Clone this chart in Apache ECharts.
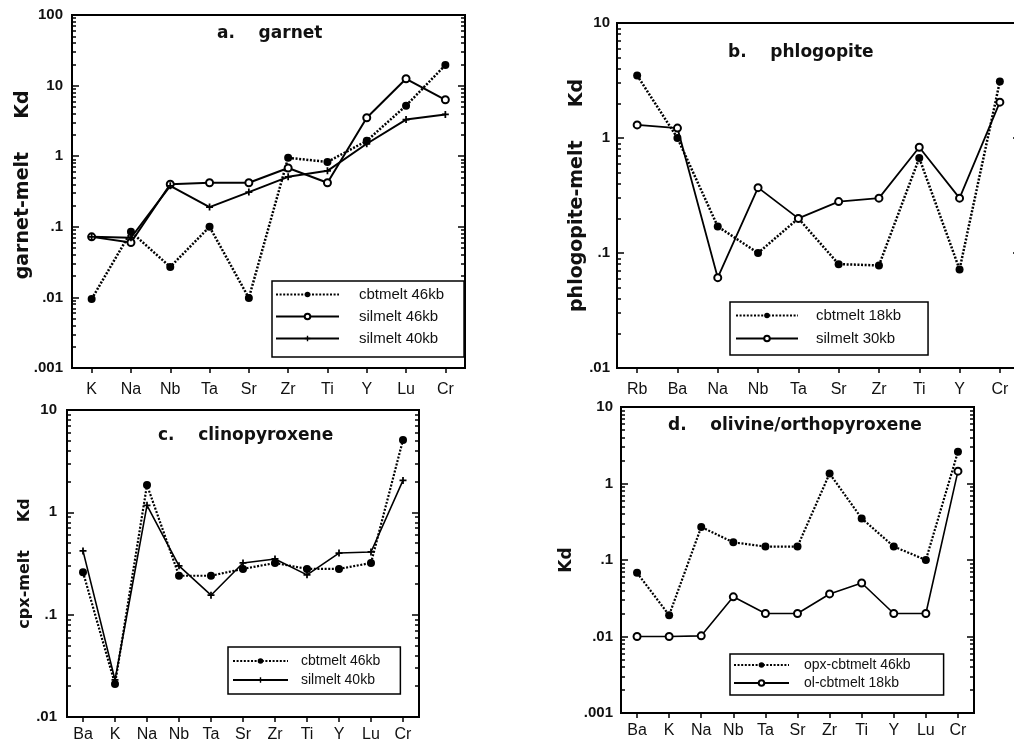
<!DOCTYPE html>
<html>
<head>
<meta charset="utf-8">
<script src="https://cdn.jsdelivr.net/npm/echarts@6/dist/echarts.min.js"></script>
<style>
  html, body { margin: 0; padding: 0; background: #fff; }
  #chart { width: 1014px; height: 739px; }
</style>
</head>
<body>
<div id="chart"></div>
<script>
// panel a - garnet
var catsA = ['K', 'Na', 'Nb', 'Ta', 'Sr', 'Zr', 'Ti', 'Y', 'Lu', 'Cr'];
var cbt46A = [0.0095, 0.085, 0.027, 0.1, 0.0098, 0.95, 0.83, 1.65, 5.2, 19.5];
var sil46A = [0.072, 0.06, 0.4, 0.42, 0.42, 0.68, 0.42, 3.5, 12.5, 6.3];
var sil40A = [0.072, 0.07, 0.38, 0.19, 0.31, 0.51, 0.62, 1.5, 3.3, 3.9];
var yValsA = [0.001, 0.01, 0.1, 1, 10, 100];
var yLabsA = ['.001', '.01', '.1', '1', '10', '100'];

// panel b - phlogopite
var catsB = ['Rb', 'Ba', 'Na', 'Nb', 'Ta', 'Sr', 'Zr', 'Ti', 'Y', 'Cr'];
var cbt18B = [3.5, 1.0, 0.17, 0.1, 0.2, 0.08, 0.078, 0.67, 0.072, 3.1];
var sil30B = [1.3, 1.22, 0.061, 0.37, 0.2, 0.28, 0.3, 0.83, 0.3, 2.05];
var yValsB = [0.01, 0.1, 1, 10];
var yLabsB = ['.01', '.1', '1', '10'];

// panel c - clinopyroxene
var catsC = ['Ba', 'K', 'Na', 'Nb', 'Ta', 'Sr', 'Zr', 'Ti', 'Y', 'Lu', 'Cr'];
var cbt46C = [0.26, 0.021, 1.85, 0.24, 0.24, 0.28, 0.32, 0.28, 0.28, 0.32, 5.1];
var sil40C = [0.42, 0.023, 1.17, 0.3, 0.155, 0.32, 0.35, 0.245, 0.4, 0.41, 2.05];
var yValsC = [0.01, 0.1, 1, 10];
var yLabsC = ['.01', '.1', '1', '10'];

// panel d - olivine/orthopyroxene
var catsD = ['Ba', 'K', 'Na', 'Nb', 'Ta', 'Sr', 'Zr', 'Ti', 'Y', 'Lu', 'Cr'];
var opx46D = [0.068, 0.019, 0.27, 0.17, 0.15, 0.15, 1.35, 0.35, 0.15, 0.1, 2.6];
var ol18D = [0.01, 0.01, 0.0102, 0.033, 0.02, 0.02, 0.036, 0.05, 0.02, 0.02, 1.45];
var yValsD = [0.001, 0.01, 0.1, 1, 10];
var yLabsD = ['.001', '.01', '.1', '1', '10'];

var fam = "'Liberation Sans', Arial, sans-serif";
var famBold = "'DejaVu Sans', sans-serif";
var ink = '#111';
var plusPath = 'path://M3,0H5V3H8V5H5V8H3V5H0V3H3Z';

function minorVals(majors) {
    var out = [];
    for (var i = 0; i < majors.length - 1; i++) {
        for (var k = 2; k <= 9; k++) out.push(+(majors[i] * k).toPrecision(3));
    }
    return out;
}

function yAxesFor(g, vals, labs, name, nameGap, nameSize, labMargin) {
    var minors = minorVals(vals);
    var base = {
        type: 'log', logBase: 10, gridIndex: g,
        min: vals[0], max: vals[vals.length - 1],
        splitLine: {show: false}, minorTick: {show: false}
    };
    var tickLine = {color: '#000', width: 1.5};
    return [
        Object.assign({}, base, {
            position: 'left',
            axisLine: {show: true, lineStyle: {color: '#000', width: 2}},
            axisTick: {show: true, inside: true, length: 7, customValues: vals, lineStyle: tickLine},
            axisLabel: {
                customValues: vals, margin: labMargin, color: ink,
                fontFamily: fam, fontWeight: 'bold', fontSize: 15,
                formatter: function (v) {
                    for (var i = 0; i < vals.length; i++) {
                        if (Math.abs(Math.log10(vals[i]) - Math.log10(v)) < 1e-6) return labs[i];
                    }
                    return '';
                }
            },
            name: name, nameLocation: 'middle', nameRotate: 90, nameGap: nameGap,
            nameMoveOverlap: false,
            nameTextStyle: {fontFamily: famBold, fontWeight: 'bold', fontSize: nameSize, color: ink}
        }),
        Object.assign({}, base, {
            position: 'left',
            axisLine: {show: false},
            axisTick: {show: true, inside: true, length: 4, customValues: minors, lineStyle: tickLine},
            axisLabel: {show: false}
        }),
        Object.assign({}, base, {
            position: 'right',
            axisLine: {show: true, lineStyle: {color: '#000', width: 2}},
            axisTick: {show: true, inside: true, length: 7, customValues: vals, lineStyle: tickLine},
            axisLabel: {show: false}
        }),
        Object.assign({}, base, {
            position: 'right',
            axisLine: {show: false},
            axisTick: {show: true, inside: true, length: 4, customValues: minors, lineStyle: tickLine},
            axisLabel: {show: false}
        })
    ];
}

function xAxisFor(g, cats, margin) {
    return {
        type: 'category', gridIndex: g, data: cats, boundaryGap: true,
        axisLine: {lineStyle: {color: '#000', width: 2}},
        axisTick: {show: true, inside: false, alignWithLabel: true, length: 5, lineStyle: {color: '#000', width: 1.5}},
        axisLabel: {interval: 0, color: ink, fontFamily: fam, fontSize: 16, margin: margin},
        splitLine: {show: false}
    };
}

function dotted(name, data, g, w) {
    return {
        name: name, type: 'line', xAxisIndex: g, yAxisIndex: g * 4, data: data,
        symbol: 'circle', symbolSize: 8,
        itemStyle: {color: '#000'},
        lineStyle: {color: '#000', width: w || 2.5, type: [2, 1.6]}
    };
}
function openCirc(name, data, g, w) {
    return {
        name: name, type: 'line', xAxisIndex: g, yAxisIndex: g * 4, data: data,
        symbol: 'emptyCircle', symbolSize: 7,
        itemStyle: {color: '#000', borderWidth: 1.5},
        lineStyle: {color: '#000', width: w || 2}
    };
}
function plusLine(name, data, g, w) {
    return {
        name: name, type: 'line', xAxisIndex: g, yAxisIndex: g * 4, data: data,
        symbol: plusPath, symbolSize: 7,
        itemStyle: {color: '#000'},
        lineStyle: {color: '#000', width: w || 2}
    };
}

function legendFor(names, left, top, pad, gap, itemW, textGap, fs) {
    return {
        data: names, orient: 'vertical', left: left, top: top,
        padding: pad, itemGap: gap, itemWidth: itemW, itemHeight: 7,
        selectedMode: false,
        borderColor: '#000', borderWidth: 1.5, backgroundColor: '#fff',
        textStyle: {fontFamily: fam, fontSize: fs, color: ink, padding: [0, 0, 0, textGap - 5]}
    };
}

function titleFor(text, left, top) {
    return {
        text: text, left: left, top: top, padding: 0,
        textStyle: {fontFamily: famBold, fontWeight: 'bold', fontSize: 17, color: ink}
    };
}

var chart = echarts.init(document.getElementById('chart'));
var gridBase = {show: true, borderColor: '#000', borderWidth: 2, backgroundColor: 'transparent', containLabel: false, outerBoundsMode: 'none'};

var option = {
    animation: false,
    backgroundColor: '#fff',
    title: [
        titleFor('a.    garnet', 217, 25),
        titleFor('b.    phlogopite', 728, 44),
        titleFor('c.    clinopyroxene', 158, 427),
        titleFor('d.    olivine/orthopyroxene', 668, 417)
    ],
    grid: [
        Object.assign({}, gridBase, {left: 72, top: 15, width: 393, height: 353}),
        Object.assign({}, gridBase, {left: 617, top: 23, width: 403, height: 345}),
        Object.assign({}, gridBase, {left: 67, top: 410, width: 352, height: 307}),
        Object.assign({}, gridBase, {left: 621, top: 407, width: 353, height: 306})
    ],
    xAxis: [
        xAxisFor(0, catsA, 14),
        xAxisFor(1, catsB, 14),
        xAxisFor(2, catsC, 10),
        xAxisFor(3, catsD, 10)
    ],
    yAxis: [].concat(
        yAxesFor(0, yValsA, yLabsA, '  garnet-melt     Kd', 39, 19, 9),
        yAxesFor(1, yValsB, yLabsB, 'phlogopite-melt     Kd', 30, 19, 7),
        yAxesFor(2, yValsC, yLabsC, 'cpx-melt     Kd', 34, 16, 10),
        yAxesFor(3, yValsD, yLabsD, 'Kd', 46, 17, 8)
    ),
    legend: [
        legendFor(['cbtmelt 46kb', 'silmelt 46kb', 'silmelt 40kb'], 272, 281, [6, 20, 11, 3], 7, 63, 20, 15),
        legendFor(['cbtmelt 18kb', 'silmelt 30kb'], 730, 302, [6, 27, 9, 5], 8, 62, 18, 15),
        legendFor(['cbtmelt 46kb', 'silmelt 40kb'], 228, 647, [7, 20, 7, 4], 5, 55, 13, 14),
        legendFor(['opx-cbtmelt 46kb', 'ol-cbtmelt 18kb'], 730, 654, [4, 33, 5, 3], 4, 55, 15, 14)
    ],
    series: [
        dotted('cbtmelt 46kb', cbt46A, 0),
        openCirc('silmelt 46kb', sil46A, 0),
        plusLine('silmelt 40kb', sil40A, 0),
        dotted('cbtmelt 18kb', cbt18B, 1),
        openCirc('silmelt 30kb', sil30B, 1, 1.8),
        dotted('cbtmelt 46kb', cbt46C, 2, 2.2),
        plusLine('silmelt 40kb', sil40C, 2, 1.6),
        dotted('opx-cbtmelt 46kb', opx46D, 3, 2.2),
        openCirc('ol-cbtmelt 18kb', ol18D, 3, 1.6)
    ]
};
chart.setOption(option);
</script>
</body>
</html>
